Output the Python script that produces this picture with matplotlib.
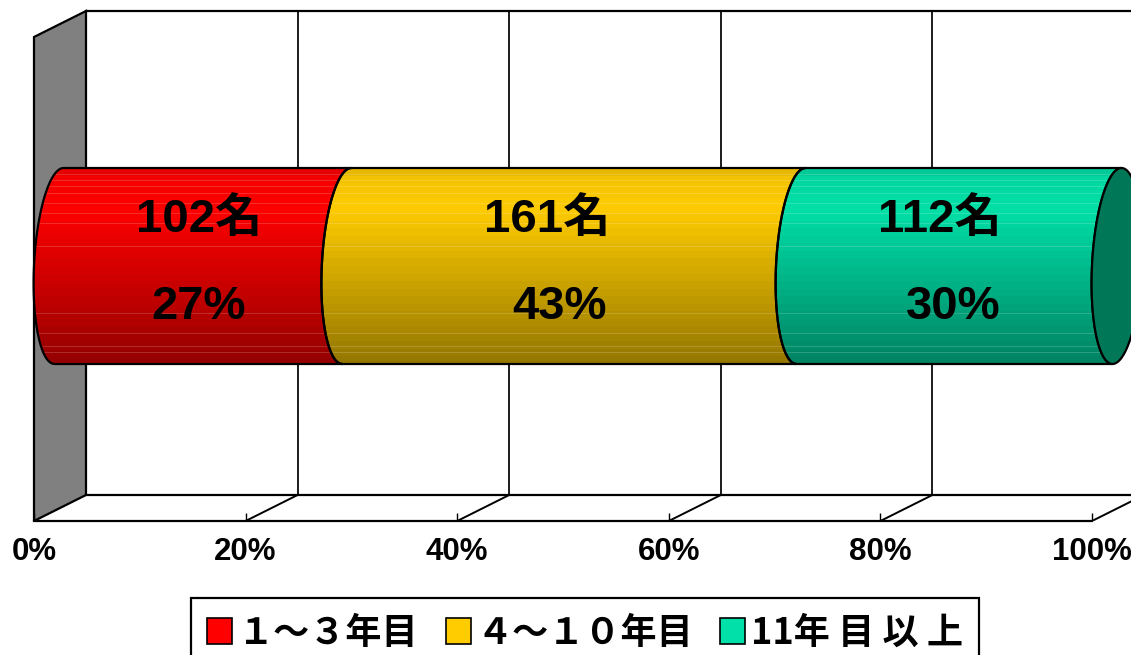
import numpy as np
import matplotlib
matplotlib.use("Agg")
import matplotlib.pyplot as plt
from matplotlib.patches import Polygon, Patch

# --- data ---
series_names = ["１～３年目", "４～１０年目", "11年 目 以 上"]
counts = [102, 161, 112]
percent_labels = ["27%", "43%", "30%"]
count_labels = ["102名", "161名", "112名"]
tick_values = [0, 20, 40, 60, 80, 100]
tick_labels = ["0%", "20%", "40%", "60%", "80%", "100%"]

# --- style ---
colors = ["#FF0000", "#FFCC00", "#00E0A8"]
cap_color = "#007858"
wall_color = "#808080"
count_label_x = [15.6, 48.5, 85.6]
percent_label_x = [15.6, 49.7, 86.9]
LATIN_CJK = ["Liberation Sans", "Noto Sans CJK JP"]

W, H = 1131, 655
PX = 10.58           # pixels per percent
Y0, Y1 = 521, 37     # front plane, pixels
DX = 52 / PX         # 3-D depth, x
DY = 26 / (Y0 - Y1)  # 3-D depth, y

fig = plt.figure(figsize=(W / 100, H / 100), dpi=100, facecolor="white")
ax = fig.add_axes([0, (H - Y0) / H, 1, Y0 / H])
ax.patch.set_alpha(0)

# walls and floor
ax.add_patch(Polygon([(0, 0), (0, 1), (DX, 1 + DY), (DX, DY)], fc=wall_color, ec="black", lw=1.6, zorder=1))
ax.plot([DX, 100 + DX], [1 + DY, 1 + DY], color="black", lw=1.6, zorder=1)
ax.plot([DX, 100 + DX], [DY, DY], color="black", lw=1.6, zorder=1)
for v in tick_values[1:]:
    ax.plot([v + DX, v + DX], [DY, 1 + DY], color="black", lw=1.25, zorder=1)
    ax.plot([v, v + DX], [0, DY], color="black", lw=1.4, zorder=1)

# cylinder
total = sum(counts)
edges = np.concatenate([[0], np.cumsum(counts) / total * 100])
yc = 0.5 + DY / 2
half = 98 / (Y0 - Y1)
ox, a, sx = 25 / PX, 25 / PX, 4.5 / PX


def arc(p, t0, t1, n=50):
    t = np.radians(np.linspace(t0, t1, n))
    return np.column_stack([p + ox + a * np.cos(t) + sx * np.sin(t), yc + half * np.sin(t)])


def shade(t):
    return np.interp(t, [0, 0.04, 0.2, 1], [0.86, 0.95, 1.0, 0.58])


band_t = (np.arange(26) + 0.5) / 26
streaks = [0.03, 0.06, 0.09, 0.13, 0.18, 0.23, 0.28, 0.40, 0.74, 0.84, 0.91, 0.94]
for i, c in enumerate(colors):
    left = arc(edges[i], 90, 270)
    right = arc(edges[i + 1], 270, 90)
    poly = Polygon(np.vstack([left, right]), closed=True, fc="none", ec="black", lw=1.6, zorder=4)
    ax.add_patch(poly)
    rgb = np.array(matplotlib.colors.to_rgb(c))
    grad = np.array([rgb * shade(t) for t in band_t])[:, None, :]
    im = ax.imshow(grad, extent=(edges[i] - 1, edges[i + 1] + 2 * ox + 1, yc - half, yc + half),
                   aspect="auto", interpolation="nearest", origin="upper", zorder=3)
    im.set_clip_path(poly)
    for s in streaks:
        ln, = ax.plot([edges[i] - 1, edges[i + 1] + 2 * ox + 1], [yc + half * (1 - 2 * s)] * 2,
                      color="white", lw=0.6, alpha=0.2, zorder=3.5)
        ln.set_clip_path(poly)
ax.add_patch(Polygon(arc(100, 0, 360, 120), closed=True, fc=cap_color, ec="black", lw=1.6, zorder=5, clip_on=False))
ax.set_xlim(-34 / PX, (W - 34) / PX)
ax.set_ylim(0, Y0 / (Y0 - Y1))

# labels
for x, s in zip(count_label_x, count_labels):
    ax.text(x, yc + 46 / (Y0 - Y1), s, ha="center", va="center", fontsize=34, fontweight="bold",
            family=LATIN_CJK, color="black", zorder=6)
for x, s in zip(percent_label_x, percent_labels):
    ax.text(x, yc - 41 / (Y0 - Y1), s, ha="center", va="center", fontsize=34, fontweight="bold",
            family=LATIN_CJK, color="black", zorder=6)

# axis
ax.set_yticks([])
for k in ("top", "left", "right"):
    ax.spines[k].set_visible(False)
ax.spines["bottom"].set_bounds(0, 100)
ax.spines["bottom"].set_linewidth(1.6)
ax.spines["bottom"].set_zorder(2)
ax.set_xticks(tick_values)
ax.set_xticklabels(tick_labels, fontsize=22.5, fontweight="bold", family=["Liberation Sans"])
ax.tick_params(axis="x", direction="in", length=6, width=1.0, pad=11.5)

# legend
handles = [Patch(fc=c, ec="black", lw=1.2) for c in colors]
leg = fig.legend(handles, series_names, loc="upper left", bbox_to_anchor=(190.5 / W, 1 - 598 / H),
                 bbox_transform=fig.transFigure, borderaxespad=0, ncol=3, frameon=True, fancybox=False,
                 edgecolor="black", framealpha=1,
                 prop={"family": ["Noto Sans CJK JP"], "weight": "bold", "size": 26},
                 handlelength=0.7, handleheight=0.7, handletextpad=0.15, columnspacing=0.75, borderpad=0.46)
leg.get_frame().set_linewidth(1.6)

fig.savefig("out.png", dpi=100)
